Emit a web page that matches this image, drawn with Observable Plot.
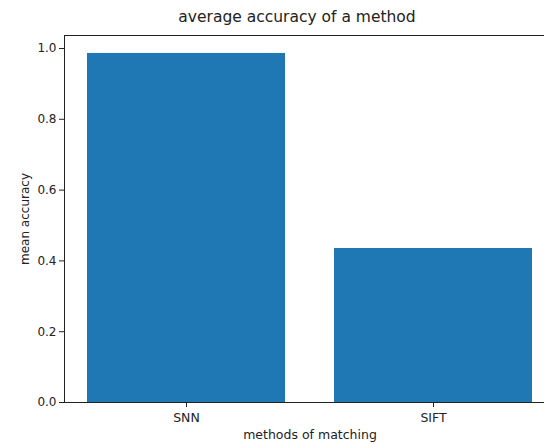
<!DOCTYPE html>
<html>
<head>
<meta charset="utf-8">
<script src="https://cdn.jsdelivr.net/npm/d3@7"></script>
<script src="https://cdn.jsdelivr.net/npm/@observablehq/plot@0.6"></script>
<style>
  html, body { margin: 0; padding: 0; background: #fff; overflow: hidden; }
  #wrap { position: relative; width: 544px; height: 444px; overflow: hidden; font-family: "DejaVu Sans", sans-serif; }
  #title { position: absolute; top: 8px; left: 0; width: 594px; text-align: center; font-size: 15.5px; color: #222; z-index: 1; }
</style>
</head>
<body>
<div id="wrap"><div id="title"></div></div>
<script>
const methods = ["SNN", "SIFT"];
const accuracy = [0.986, 0.435];
const yTicks = [0.0, 0.2, 0.4, 0.6, 0.8, 1.0];
const titleText = "average accuracy of a method";
const xLabel = "methods of matching";
const yLabel = "mean accuracy";
const yMax = 1.0367;

const data = methods.map((m, i) => ({method: m, acc: accuracy[i]}));
document.getElementById("title").textContent = titleText;

const chart = Plot.plot({
  width: 544,
  height: 444,
  marginTop: 35,
  marginBottom: 42,
  marginLeft: 64,
  marginRight: -11,
  style: {fontFamily: "DejaVu Sans, sans-serif", fontSize: "12px", color: "#222", background: "transparent"},
  x: {domain: methods, paddingInner: 0.2, paddingOuter: 0.09, label: null},
  y: {domain: [0, yMax], label: null},
  marks: [
    Plot.barY(data, {x: "method", y: "acc", fill: "#1f77b4"}),
    Plot.ruleY([0, yMax], {stroke: "#222"}),
    Plot.frame({anchor: "left", stroke: "#222"}),
    Plot.axisY({ticks: yTicks, tickFormat: d3.format(".1f"), tickSize: 5, tickPadding: 3, label: yLabel, labelAnchor: "center", labelArrow: "none", labelOffset: 44, fontSize: 12}),
    Plot.axisX({tickSize: 5, tickPadding: 6, label: xLabel, labelAnchor: "center", labelArrow: "none", labelOffset: 36, fontSize: 12.5})
  ]
});
document.getElementById("wrap").appendChild(chart);
</script>
</body>
</html>
